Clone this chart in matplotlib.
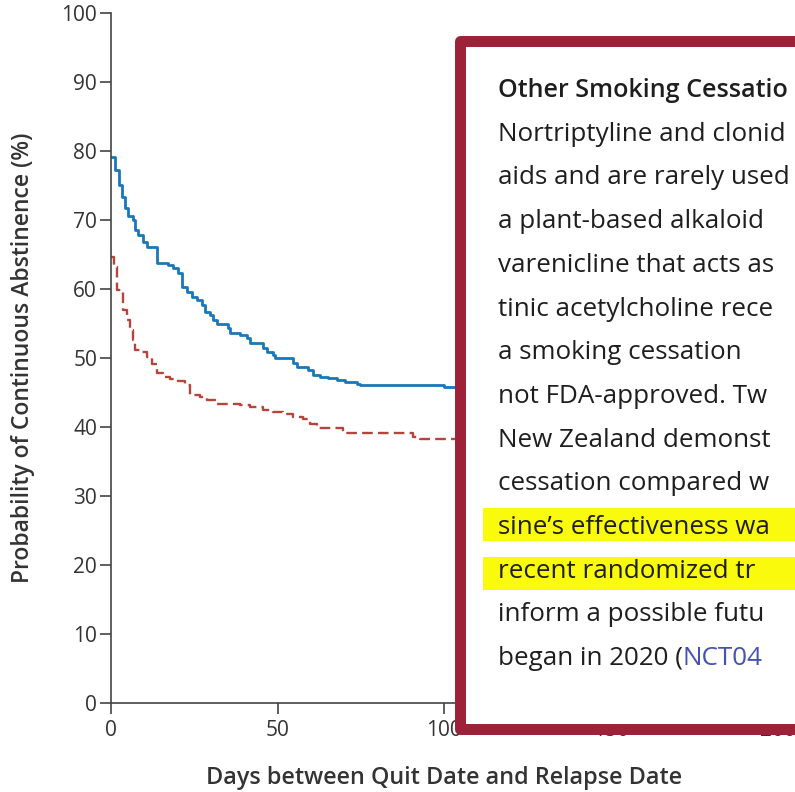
import matplotlib
matplotlib.use("Agg")
import matplotlib.pyplot as plt
from matplotlib.patches import Rectangle

# Kaplan-Meier curves (days, percent abstinent)
days_blue = [0, 1.2, 2.4, 3.3, 4.2, 5.1, 6.6, 7.2, 8.2, 9.7,
             10.7, 13.8, 17.2, 18.7, 20.2, 21.2, 22.7, 24.2, 25.7, 27.2,
             28.2, 29.7, 30.7, 31.7, 35.2, 35.7, 38.7, 40.7, 41.7, 45.7,
             46.7, 48.7, 49.2, 54.5, 55.7, 59.2, 60.7, 62.7, 65.2, 67.7,
             70.2, 73.7, 74.8, 99.8, 105]
vals_blue = [79.2, 77.2, 75.1, 73.3, 71.7, 70.6, 70.0, 68.6, 67.8, 66.8,
             66.1, 63.7, 63.5, 63.0, 62.3, 60.3, 59.6, 58.9, 58.4, 57.7,
             56.7, 56.2, 55.5, 54.9, 54.3, 53.6, 53.3, 52.9, 52.2, 51.4,
             50.9, 50.4, 50.0, 49.3, 48.7, 48.3, 47.5, 47.3, 47.1, 46.8,
             46.5, 46.3, 46.1, 45.8, 45.8]

days_red = [0, 0.9, 1.8, 3.6, 4.7, 5.7, 6.7, 7.2, 8.7, 10.7, 12.2,
            13.7, 15.7, 17.7, 20.2, 22.2, 23.7, 26.7, 28.7, 31.7, 38.7,
            41.7, 45.7, 48.7, 51.7, 54.7, 57.7, 59.7, 61.7, 69.7, 90.7,
            92.7, 105]
vals_red = [64.6, 63.2, 59.9, 57.0, 55.5, 54.1, 52.6, 51.2, 50.9, 50.2, 49.2,
            47.8, 47.3, 47.0, 46.6, 46.1, 44.6, 44.4, 43.9, 43.4, 43.2,
            42.9, 42.5, 42.2, 41.9, 41.5, 41.2, 40.5, 39.9, 39.1, 38.6,
            38.2, 38.2]

y_ticks = [0, 10, 20, 30, 40, 50, 60, 70, 80, 90, 100]
x_ticks = [0, 50, 100, 150, 200]

# visible part of the cropped excerpt pasted over the chart
box_lines = ["Other Smoking Cessatio",
             "Nortriptyline and clonid",
             "aids and are rarely used",
             "a plant-based alkaloid",
             "varenicline that acts as",
             "tinic acetylcholine rece",
             "a smoking cessation",
             "not FDA-approved. Tw",
             "New Zealand demonst",
             "cessation compared w",
             "sine\u2019s effectiveness wa",
             "recent randomized tr",
             "inform a possible futu",
             "began in 2020 ("]
link_text = "NCT04"
band_tops = [508, 557]

W, H = 795, 792
fig = plt.figure(figsize=(W / 100, H / 100), dpi=100)
plt.rcParams['font.family'] = ['Open Sans', 'DejaVu Sans']

ax = fig.add_axes([111 / W, (H - 703) / H, 733 / W, 690 / H])
ax.step(days_blue, vals_blue, where='post', color='#1878b8', lw=2.0)
ax.step(days_red, vals_red, where='post', color='#b5453b', lw=1.7,
        linestyle=(0, (4.5, 2.2)))

ax.set_xlim(0, 220)
ax.set_ylim(0, 100)
ax.set_xticks(x_ticks)
ax.set_yticks(y_ticks)
for s in ['top', 'right']:
    ax.spines[s].set_visible(False)
for s in ['left', 'bottom']:
    ax.spines[s].set_color('#444444')
    ax.spines[s].set_linewidth(1.2)
ax.tick_params(axis='y', length=8, width=1.2, color='#444444', pad=2,
               labelsize=15, labelcolor='#333333')
ax.tick_params(axis='x', length=8, width=1.2, color='#444444', pad=4,
               labelsize=15, labelcolor='#333333')
ax.set_ylabel("Probability of Continuous Abstinence (%)", fontsize=16.5,
              fontweight=600, color='#333333')
ax.yaxis.set_label_coords(-0.104, 0.5)
ax.set_xlabel("Days between Quit Date and Relapse Date", fontsize=16.8,
              fontweight=600, color='#333333')
ax.xaxis.set_label_coords(100 / 220, -0.092)

# framed text box on top of the chart, with yellow highlight bands
fig.add_artist(Rectangle((459.5 / W, (H - 728.5) / H), 360 / W, 688 / H,
                         transform=fig.transFigure, facecolor='white',
                         edgecolor='#9c2139', lw=7.9, joinstyle='round',
                         zorder=5))
for top in band_tops:
    fig.add_artist(Rectangle((483 / W, (H - top - 33) / H), 320 / W, 33 / H,
                             transform=fig.transFigure, facecolor='#fafa0c',
                             edgecolor='none', zorder=6))

texts = []
for i, line in enumerate(box_lines):
    t = fig.text(498 / W, (H - 97 - i * 43.7) / H, line,
                 fontsize=18.1 if i == 0 else 18.7,
                 color='#1e1e1e', va='baseline', ha='left', zorder=7,
                 fontweight=600 if i == 0 else 'normal')
    texts.append(t)

# the excerpt is cropped at the right edge: keep what fits
renderer = fig.canvas.get_renderer()
for t in texts:
    s = t.get_text()
    while t.get_window_extent(renderer).x1 > W - 1 and len(s) > 1:
        s = s[:-1]
        t.set_text(s)

bb = texts[-1].get_window_extent(renderer)
fig.text(bb.x1 / W, (H - 97 - 13 * 43.7) / H, link_text, fontsize=18.7,
         color='#4652b0', va='baseline', ha='left', zorder=7)

fig.savefig("out.png", dpi=100)
